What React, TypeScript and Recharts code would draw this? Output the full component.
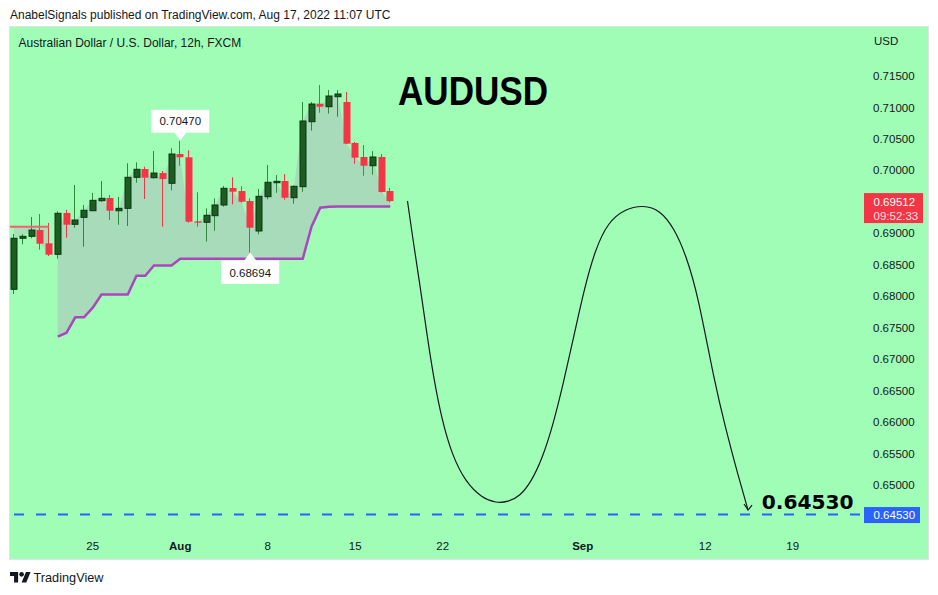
import React from 'react';
import { ComposedChart, Bar, Line, Area, XAxis, YAxis, ReferenceLine, ReferenceDot } from 'recharts';

// ---------- data ----------
const opens = [0.68110, 0.68921, 0.68952, 0.69052, 0.68841, 0.68666, 0.69323, 0.69143, 0.69254, 0.69359, 0.69518, 0.69561, 0.69359, 0.69397, 0.69890, 0.70022, 0.69884, 0.69958, 0.69795, 0.70260, 0.70208, 0.69191, 0.69175, 0.69280, 0.69450, 0.69720, 0.69672, 0.69513, 0.69037, 0.69582, 0.69804, 0.69831, 0.69566, 0.69741, 0.70774, 0.71060, 0.71012, 0.71171, 0.71087, 0.70435, 0.70213, 0.70074, 0.70213, 0.69672];
const highs = [0.68989, 0.68984, 0.69259, 0.69307, 0.69164, 0.69350, 0.69370, 0.69768, 0.69450, 0.69641, 0.69831, 0.69609, 0.69577, 0.70113, 0.70128, 0.70059, 0.70308, 0.69990, 0.70351, 0.70470, 0.70319, 0.69652, 0.69397, 0.69556, 0.69752, 0.69890, 0.69747, 0.69556, 0.69704, 0.70086, 0.69927, 0.69942, 0.69760, 0.71087, 0.71087, 0.71357, 0.71277, 0.71277, 0.71246, 0.70451, 0.70403, 0.70308, 0.70260, 0.69720];
const lows = [0.68035, 0.68825, 0.68921, 0.68739, 0.68639, 0.68596, 0.68930, 0.69089, 0.68787, 0.69355, 0.69502, 0.69211, 0.69137, 0.69116, 0.69804, 0.69545, 0.69868, 0.69105, 0.69683, 0.70074, 0.69169, 0.69105, 0.68867, 0.69041, 0.69423, 0.69461, 0.69486, 0.68694, 0.68984, 0.69540, 0.69645, 0.69534, 0.69470, 0.69661, 0.70631, 0.70917, 0.70901, 0.70853, 0.70420, 0.70106, 0.69915, 0.69931, 0.69650, 0.69495];
const closes = [0.68921, 0.68952, 0.69052, 0.68835, 0.68660, 0.69318, 0.69137, 0.69211, 0.69366, 0.69524, 0.69556, 0.69359, 0.69397, 0.69890, 0.70017, 0.69884, 0.69958, 0.69863, 0.70260, 0.70208, 0.69184, 0.69169, 0.69286, 0.69450, 0.69715, 0.69661, 0.69502, 0.69089, 0.69588, 0.69811, 0.69826, 0.69566, 0.69747, 0.70785, 0.71055, 0.71012, 0.71182, 0.71214, 0.70424, 0.70202, 0.70074, 0.70213, 0.69656, 0.69512];
const stopUp: (number | null)[] = [null, null, null, null, null, 0.67357, 0.67420, 0.67665, 0.67665, 0.67818, 0.68027, 0.68027, 0.68027, 0.68027, 0.68326, 0.68326, 0.68488, 0.68488, 0.68488, 0.68596, 0.68596, 0.68596, 0.68596, 0.68596, 0.68596, 0.68596, 0.68596, 0.68596, 0.68596, 0.68596, 0.68596, 0.68596, 0.68596, 0.68596, 0.69105, 0.69407, 0.69422, 0.69426, 0.69426, 0.69426, 0.69426, 0.69426, 0.69426, 0.69426];
const stopDownLevel = 0.69105;
const stopDownLastIndex = 4;

const timeTicks = [9, 19, 29, 39, 49, 65, 79, 89];
const timeLabels = ['25', 'Aug', '8', '15', '22', 'Sep', '12', '19'];
const monthLabels = ['Aug', 'Sep'];
const priceTicks = [0.715, 0.71, 0.705, 0.7, 0.69, 0.685, 0.68, 0.675, 0.67, 0.665, 0.66, 0.655, 0.65];

const targetPrice = 0.6453;
const targetLabelIndex = 85.45;
const lastClose = 0.69512;
const countdown = '09:52:33';
const highMark = { i: 19, p: 0.7047 };
const lowMark = { i: 27, p: 0.68694 };

const curveIdx = [44.97, 45.6, 46.4, 47.2, 48.0, 48.91, 50.06, 51.6, 53.49, 55.09, 56.46, 57.83, 59.1, 60.4, 61.6, 62.74, 63.89, 65.14, 66.4, 67.89, 69.83, 71.89, 73.83, 75.43, 76.8, 78.17, 80.0, 81.37, 82.74, 83.89];
const curvePrice = [0.69513, 0.68894, 0.68178, 0.67384, 0.66669, 0.66033, 0.65477, 0.65047, 0.64793, 0.64714, 0.6473, 0.64825, 0.65047, 0.65429, 0.65953, 0.66589, 0.67304, 0.68099, 0.68735, 0.6918, 0.69386, 0.6945, 0.6937, 0.69084, 0.68655, 0.68019, 0.66669, 0.65874, 0.65159, 0.64602];

// ---------- derived tables ----------
const rows = opens.map((o, i) => ({
  i,
  open: o,
  high: highs[i],
  low: lows[i],
  close: closes[i],
  range: [lows[i], highs[i]],
  stopUp: stopUp[i],
  bandUp: stopUp[i] != null ? [stopUp[i] as number, closes[i]] : null,
  bandDn: i <= stopDownLastIndex ? [closes[i], stopDownLevel] : null,
}));
const curveData = curveIdx.map((i, k) => ({ i, v: curvePrice[k] }));

// ---------- styles ----------
const FONT = '"Liberation Sans", Arial, sans-serif';
const BG = '#9ffdb6';
const TEXT = '#131722';
const UP_BODY = '#1b5e20';
const UP_EDGE = '#0c3414';
const UP_WICK = '#2e8b3a';
const DOWN = '#f23645';

const Candle = (props: any) => {
  const { x, y, width, height, payload } = props;
  if (!payload || x == null || y == null || !height) return <g />;
  const { open, close, high, low } = payload;
  const yTop = height < 0 ? y + height : y;
  const h = Math.abs(height);
  const k = h / (high - low);
  const yOf = (p: number) => yTop + (high - p) * k;
  const cx = Math.floor(x + width / 2) + 0.5;
  const up = close >= open;
  const bTop = yOf(Math.max(open, close));
  const bBot = yOf(Math.min(open, close));
  const bh = Math.max(bBot - bTop, 1);
  return (
    <g>
      <line x1={cx} x2={cx} y1={yOf(high)} y2={yOf(low)} stroke={up ? UP_WICK : DOWN} strokeWidth={1} />
      {up ? (
        <rect x={cx - 2.5} y={bTop} width={6} height={bh} fill={UP_BODY} stroke={UP_EDGE} strokeWidth={1} />
      ) : (
        <rect x={cx - 3} y={bTop} width={7} height={bh} fill={DOWN} />
      )}
    </g>
  );
};

const TimeTick = (props: any) => {
  const { x, y, payload } = props;
  const k = timeTicks.indexOf(payload.value);
  const label = k >= 0 ? timeLabels[k] : '';
  const bold = monthLabels.includes(label);
  return (
    <text x={x} y={y + 17} textAnchor="middle" fontSize={11.5} fontWeight={bold ? 700 : 400} fill={TEXT} fontFamily={FONT}>
      {label}
    </text>
  );
};

const CalloutAbove = (props: any) => {
  const { cx, cy } = props;
  if (cx == null) return <g />;
  return (
    <g>
      <path d={`M${cx - 29},${cy - 31} h58 v23 h-23 l-6,7.5 l-6,-7.5 h-23 z`} fill="#ffffff" />
      <text x={cx} y={cy - 15.5} textAnchor="middle" fontSize={11.5} fill={TEXT} fontFamily={FONT}>
        {highMark.p.toFixed(5)}
      </text>
    </g>
  );
};

const CalloutBelow = (props: any) => {
  const { cx, cy } = props;
  if (cx == null) return <g />;
  return (
    <g>
      <path d={`M${cx},${cy} l6,8 h23 v23.5 h-58 v-23.5 h23 z`} fill="#ffffff" />
      <text x={cx} y={cy + 24} textAnchor="middle" fontSize={11.5} fill={TEXT} fontFamily={FONT}>
        {lowMark.p.toFixed(5)}
      </text>
    </g>
  );
};

const TargetText = (props: any) => {
  const { cx, cy } = props;
  if (cx == null) return <g />;
  return (
    <text x={cx} y={cy - 6} fontSize={20} fontWeight={700} fill="#000000" fontFamily='"DejaVu Sans", sans-serif' textLength={92} lengthAdjust="spacingAndGlyphs">
      {targetPrice.toFixed(5)}
    </text>
  );
};

const LastPriceTag = (p: any) => {
  const vb = p.viewBox || {};
  const x = (vb.x ?? 0) + (vb.width ?? 0) + 4;
  const y = vb.y ?? 0;
  return (
    <g>
      <rect x={x} y={y - 8} width={59} height={30} fill={DOWN} />
      <text x={x + 9.5} y={y + 4.5} fill="#ffffff" fontSize={11.5} fontFamily={FONT}>{lastClose.toFixed(5)}</text>
      <text x={x + 9.5} y={y + 18.5} fill="#ffffff" fillOpacity={0.85} fontSize={11.5} fontFamily={FONT}>{countdown}</text>
    </g>
  );
};

const TargetTag = (p: any) => {
  const vb = p.viewBox || {};
  const x = (vb.x ?? 0) + (vb.width ?? 0) + 4;
  const y = vb.y ?? 0;
  return (
    <g>
      <rect x={x} y={y - 7.5} width={56} height={16} fill="#2962ff" />
      <text x={x + 9.5} y={y + 4.8} fill="#ffffff" fontSize={11.5} fontFamily={FONT}>{targetPrice.toFixed(5)}</text>
    </g>
  );
};

const ArrowDot = (p: any) => {
  if (p.index !== curveData.length - 1) return <g key={`d${p.index}`} />;
  return (
    <path key="arrow" d={`M${p.cx - 4},${p.cy - 6} L${p.cx},${p.cy} L${p.cx + 4},${p.cy - 5}`} fill="none" stroke={TEXT} strokeWidth={1.2} />
  );
};

export default function App() {
  return (
    <div style={{ position: 'absolute', left: 0, top: 0, width: 938, height: 595, background: '#ffffff', overflow: 'hidden' }}>
      <div style={{ position: 'absolute', left: 9, top: 26, width: 920, height: 534, background: BG, border: '1px solid #e0e3eb', boxSizing: 'border-box' }} />
      <div style={{ position: 'absolute', left: 0, top: 0 }}>
        <ComposedChart width={938} height={595} data={rows} margin={{ top: 28, right: 10, bottom: 32, left: 10 }}>
          <XAxis
            type="number"
            dataKey="i"
            domain={[-0.457, 96.686]}
            allowDataOverflow
            ticks={timeTicks}
            interval={0}
            tick={<TimeTick />}
            tickSize={0}
            tickMargin={0}
            axisLine={false}
            tickLine={false}
            height={30}
          />
          <YAxis
            orientation="right"
            type="number"
            domain={[0.64237, 0.72263]}
            allowDataOverflow
            ticks={priceTicks}
            interval={0}
            tickFormatter={(v: number) => v.toFixed(5)}
            tick={{ fill: TEXT, fontSize: 11.5, fontFamily: FONT }}
            tickSize={0}
            tickMargin={13}
            axisLine={false}
            tickLine={false}
            width={68}
          />
          <Area dataKey="bandDn" type="linear" fill="#a7dbba" fillOpacity={0.8} stroke="none" dot={false} activeDot={false} isAnimationActive={false} />
          <Area dataKey="bandUp" type="linear" fill="#a7dbba" fillOpacity={1} stroke="none" dot={false} activeDot={false} isAnimationActive={false} />
          <ReferenceLine
            segment={[{ x: -0.457, y: stopDownLevel }, { x: stopDownLastIndex, y: stopDownLevel }]}
            stroke="#f4606c"
            strokeWidth={2}
            ifOverflow="visible"
          />
          <Line dataKey="stopUp" type="linear" stroke="#ab47bc" strokeWidth={2.5} dot={false} activeDot={false} isAnimationActive={false} />
          <Bar dataKey="range" barSize={6} shape={<Candle />} isAnimationActive={false} />
          <Line data={curveData} dataKey="v" type="basis" stroke={TEXT} strokeWidth={1.2} dot={ArrowDot} activeDot={false} isAnimationActive={false} />
          <ReferenceLine y={targetPrice} stroke="#2962ff" strokeWidth={2} strokeDasharray="10 12" label={(p: any) => <TargetTag {...p} />} />
          <ReferenceLine y={lastClose} stroke="none" label={(p: any) => <LastPriceTag {...p} />} />
          <ReferenceDot x={highMark.i} y={highMark.p} r={0} shape={(p: any) => <CalloutAbove {...p} />} />
          <ReferenceDot x={lowMark.i} y={lowMark.p} r={0} shape={(p: any) => <CalloutBelow {...p} />} />
          <ReferenceDot x={targetLabelIndex} y={targetPrice} r={0} shape={(p: any) => <TargetText {...p} />} />
        </ComposedChart>
      </div>
      <svg width={938} height={595} style={{ position: 'absolute', left: 0, top: 0, pointerEvents: 'none' }}>
        <text x={10} y={18.5} fontSize={12} fill={TEXT} fontFamily={FONT}>AnabelSignals published on TradingView.com, Aug 17, 2022 11:07 UTC</text>
        <text x={18.5} y={46.5} fontSize={12} fill={TEXT} fontFamily={FONT}>Australian Dollar / U.S. Dollar, 12h, FXCM</text>
        <text x={874} y={45} fontSize={11.5} fill={TEXT} fontFamily={FONT}>USD</text>
        <text x={398} y={105} fontSize={40} fontWeight={700} fill="#000000" fontFamily={FONT} textLength={150} lengthAdjust="spacingAndGlyphs">AUDUSD</text>
        <g transform="translate(10,569.7) scale(0.58)" fill={TEXT}>
          <path d="M14 22H7V11H0V4h14v18zM28 22h-8l7.5-18h8L28 22z" />
          <circle cx="20" cy="8" r="4" />
        </g>
        <text x={33.5} y={581.5} fontSize={13} fill={TEXT} fontFamily={FONT} textLength={70} lengthAdjust="spacingAndGlyphs">TradingView</text>
      </svg>
    </div>
  );
}
